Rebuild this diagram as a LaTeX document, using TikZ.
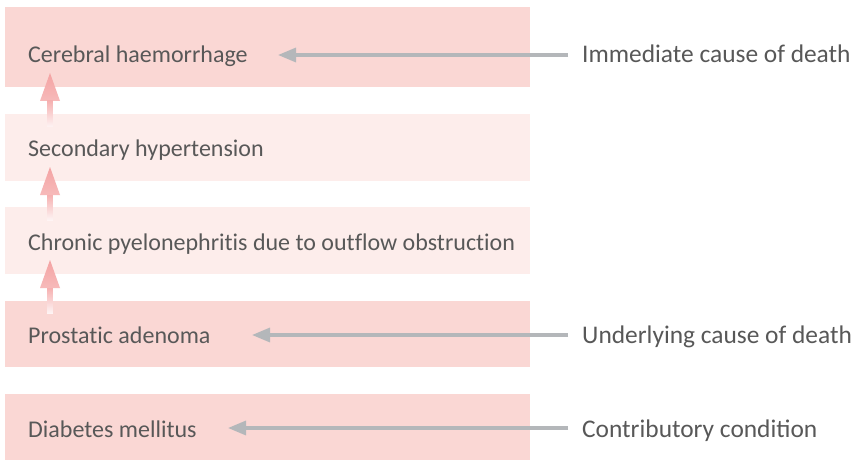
\documentclass[tikz,border=0pt]{standalone}
\usepackage{fontspec}
\setmainfont{Carlito}
\newfontfamily\rowfont[Ligatures=NoCommon]{Carlito}
\usetikzlibrary{arrows.meta}
\definecolor{rowdark}{HTML}{FAD7D4}
\definecolor{rowlight}{HTML}{FDEDEB}
\definecolor{txtgray}{HTML}{585858}
\definecolor{arrgray}{HTML}{B4B7BA}
\definecolor{pinkarr}{HTML}{F4A3A3}
\tikzset{
  rowbox/.style={draw=none, minimum width=525pt, inner sep=0pt, anchor=north west},
  lefttxt/.style={anchor=base west, inner sep=0pt, text=txtgray, font=\rowfont\fontsize{24}{26}\selectfont},
  righttxt/.style={anchor=base west, inner sep=0pt, text=txtgray, font=\fontsize{25.4}{28}\selectfont},
  grayarrow/.style={draw=arrgray, line width=3.2pt, -{Triangle[length=18pt,width=14pt]}},
}
\newcommand{\pinkup}[3]{% #1 x, #2 tip y, #3 shaft bottom y
  \shade[top color=pinkarr, bottom color=pinkarr!75] (#1-10,#2+28) -- (#1,#2) -- (#1+10,#2+28) -- cycle;
  \shade[top color=pinkarr!85, bottom color=pinkarr!12] (#1-2.8,#2+28) rectangle (#1+2.8,#3);
}
\begin{document}
\begin{tikzpicture}[x=1pt,y=-1pt]
\useasboundingbox (0,0) rectangle (855,460);
\fill[white] (0,0) rectangle (855,460);
% rows
\node[rowbox, fill=rowdark, minimum height=80pt] (b1) at (5,7) {};
\node[rowbox, fill=rowlight, minimum height=67pt] (b2) at (5,114) {};
\node[rowbox, fill=rowlight, minimum height=67pt] (b3) at (5,207) {};
\node[rowbox, fill=rowdark, minimum height=66pt] (b4) at (5,301) {};
\node[rowbox, fill=rowdark, minimum height=66pt] (b5) at (5,394) {};
% row texts
\node[lefttxt] (t1) at (28,63) {Cerebral haemorrhage};
\node[lefttxt] (t2) at (28,157) {Secondary hypertension};
\node[lefttxt] (t3) at (28,250) {Chronic pyelonephritis due to outflow obstruction};
\node[lefttxt] (t4) at (28,343) {Prostatic adenoma};
\node[lefttxt] (t5) at (28,437) {Diabetes mellitus};
% right labels
\node[righttxt] (r1) at (582,63) {Immediate cause of death};
\node[righttxt] (r4) at (582,343) {Underlying cause of death};
\node[righttxt] (r5) at (582,437) {Contributory condition};
% gray arrows
\coordinate (g1) at (278,55);
\coordinate (g4) at (252,335);
\coordinate (g5) at (228,428);
\draw[grayarrow] (r1.west |- g1) ++(-14,0) -- (g1);
\draw[grayarrow] (r4.west |- g4) ++(-14,0) -- (g4);
\draw[grayarrow] (r5.west |- g5) ++(-14,0) -- (g5);
% pink upward arrows
\pinkup{50}{73}{127}
\pinkup{50}{167}{220}
\pinkup{50}{260}{313}
\end{tikzpicture}
\end{document}
